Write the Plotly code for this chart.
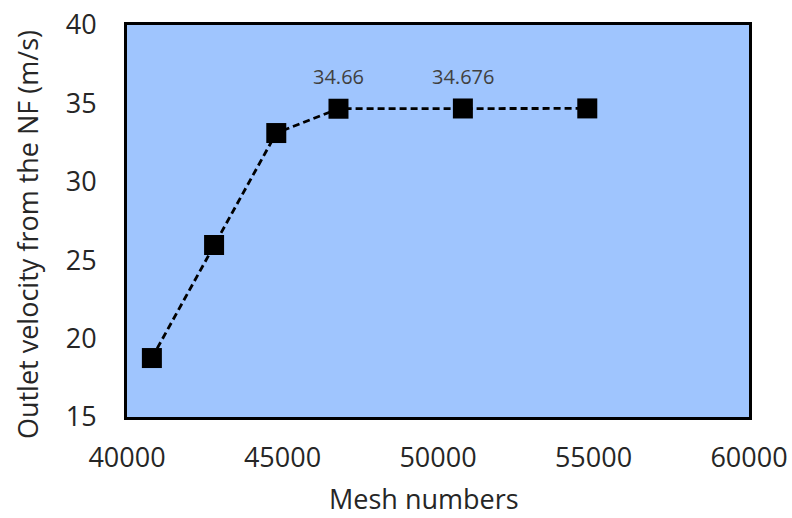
import plotly.graph_objects as go

mesh = [40800, 42800, 44800, 46800, 50800, 54800]
velocity = [18.76, 25.97, 33.11, 34.66, 34.676, 34.68]
labels = ["", "", "", "34.66", "34.676", ""]

x_ticks = [40000, 45000, 50000, 55000, 60000]
y_ticks = [15, 20, 25, 30, 35, 40]

x_title = "Mesh numbers"
y_title = "Outlet velocity from the NF (m/s)"

fig = go.Figure()
fig.add_trace(go.Scatter(
    x=mesh, y=velocity, mode="lines+markers",
    line=dict(color="black", width=2.8, dash="7px,4px"),
    marker=dict(symbol="square", size=20, color="black"),
    cliponaxis=False, showlegend=False,
))
for xv, yv, lab in zip(mesh, velocity, labels):
    if lab:
        fig.add_annotation(
            x=xv, y=yv, text=lab, showarrow=False, yshift=32,
            font=dict(size=20, color="#404040"),
            xanchor="center", yanchor="middle",
        )

font = "Open Sans, Noto Sans, sans-serif"
fig.update_layout(
    width=792, height=518,
    margin=dict(l=127, r=43, t=25, b=101),
    paper_bgcolor="white", plot_bgcolor="#9FC5FE",
    font=dict(family=font, size=27, color="#262626"),
)
fig.update_xaxes(
    range=[40000, 60000], tickvals=x_ticks, ticktext=[str(v) for v in x_ticks],
    showgrid=False, zeroline=False, showline=True, mirror=True,
    linecolor="black", linewidth=3, ticks="outside", ticklen=15,
    tickcolor="rgba(0,0,0,0)", automargin=False, ticklabeloverflow="allow",
    tickfont=dict(size=27),
)
fig.update_yaxes(
    range=[15, 40], tickvals=y_ticks, showgrid=False, zeroline=False,
    showline=True, mirror=True, linecolor="black", linewidth=3,
    ticks="outside", ticklen=22, tickcolor="rgba(0,0,0,0)", automargin=False,
    ticklabeloverflow="allow",
    tickfont=dict(size=27),
)
fig.add_annotation(
    text=x_title, xref="paper", yref="paper", x=0.4775, y=0,
    yshift=-81, showarrow=False, font=dict(size=27, color="#262626"),
    xanchor="center", yanchor="middle",
)
fig.add_annotation(
    text=y_title, xref="paper", yref="paper", x=0, y=0.464,
    xshift=-100, showarrow=False, textangle=-90,
    font=dict(size=27, color="#262626"),
    xanchor="center", yanchor="middle",
)
fig.write_html("out.html", config={"displayModeBar": False},
               post_script="document.body.style.margin='0';")
